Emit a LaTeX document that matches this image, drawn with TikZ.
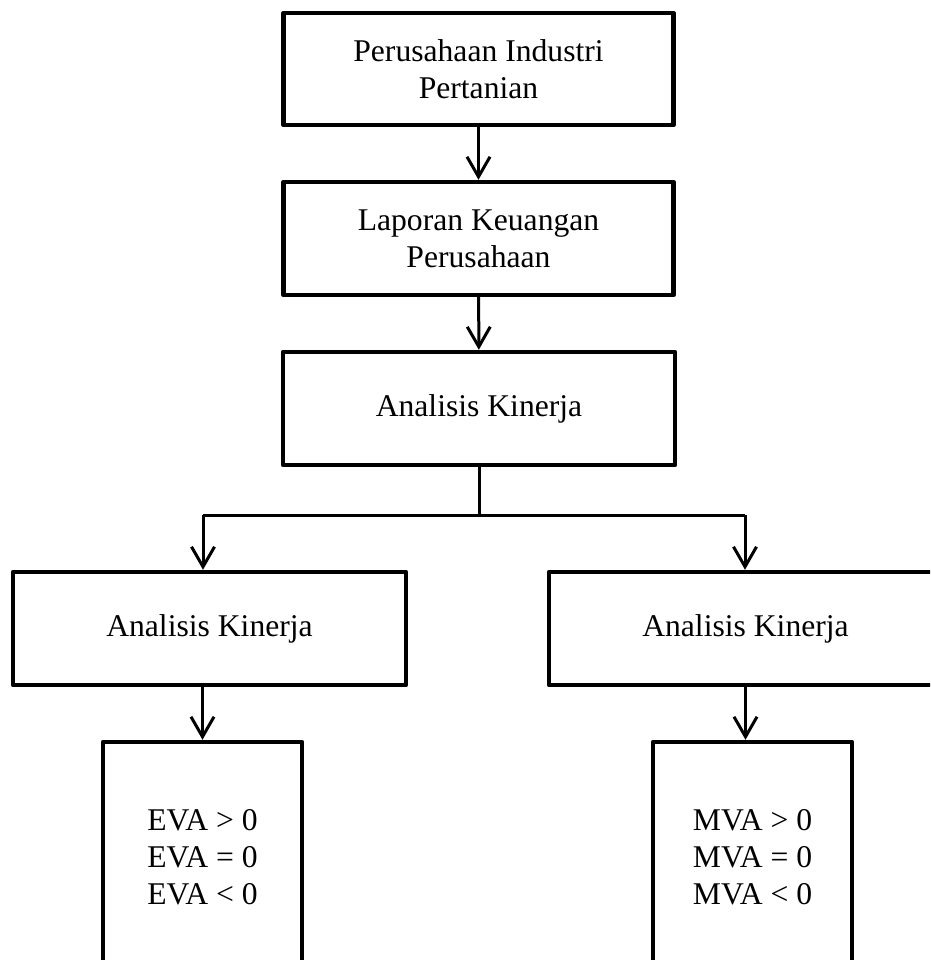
\documentclass[tikz,border=0pt]{standalone}
\usepackage{fontspec}
\setmainfont{Liberation Serif}
\usetikzlibrary{arrows.meta}
\begin{document}
\begin{tikzpicture}[x=0.02cm,y=-0.02cm,every node/.style={font=\fontsize{18}{21}\selectfont},
  box/.style={draw,line width=0.09cm,line join=round,inner sep=0pt,align=center,minimum width=7.8cm,minimum height=2.26cm},
  tall/.style={box,minimum width=3.98cm,minimum height=4.6cm},
  conn/.style={line width=0.06cm},
  arr/.style={conn,-{Straight Barb[length=0.4cm,width=0.46cm,line width=0.06cm]}}]
\clip (0,0) rectangle (930,960);
\node[box,minimum height=2.24cm] (ind) at (478.5,69) {Perusahaan Industri\\Pertanian};
\node[box] (lap) at (478.5,238.5) {Laporan Keuangan\\Perusahaan};
\node[box,minimum width=7.84cm] (ana) at (479,408.5) {Analisis Kinerja};
\node[box,minimum width=7.86cm] (anaL) at (209.5,628.5) {Analisis Kinerja};
\node[box,minimum width=7.86cm] (anaR) at (745.5,628.5) {Analisis Kinerja};
\node[tall] (eva) at (202.5,857) {EVA > 0\\EVA = 0\\EVA < 0};
\node[tall] (mva) at (752.5,857) {MVA > 0\\MVA = 0\\MVA < 0};
\coordinate (jl) at (203,515);
\coordinate (jr) at (745,515);
\foreach \a/\b in {ind/lap,lap/ana}
  \draw[arr] (\a) -- (\b);
\draw[conn] (ana) -- (ana |- jl);
\draw[conn] (jl) -- (jr);
\draw[arr] (jl) -- (jl |- anaL.north);
\draw[arr] (jr) -- (jr |- anaR.north);
\draw[arr] (anaL.south -| eva.north) -- (eva.north);
\draw[arr] (anaR.south) -- (anaR.south |- mva.north);
\end{tikzpicture}
\end{document}
